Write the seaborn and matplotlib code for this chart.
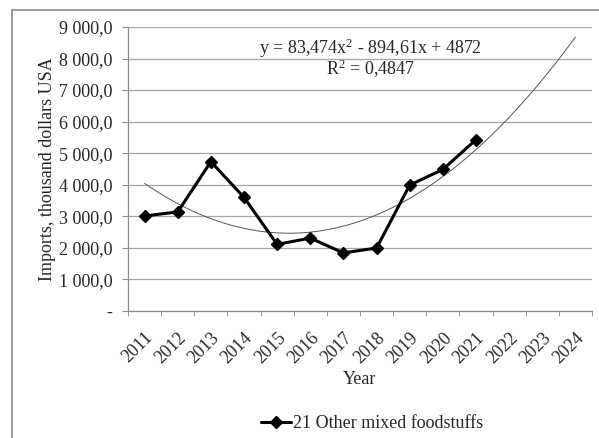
import numpy as np
import pandas as pd
import seaborn as sns
import matplotlib.pyplot as plt
from matplotlib.patches import Rectangle
from matplotlib.ticker import FuncFormatter, MultipleLocator, FixedLocator

# data
years = list(range(2011, 2025))
data_years = list(range(2011, 2022))
imports = [3010, 3140, 4730, 3600, 2110, 2310, 1840, 1995, 3990, 4485, 5430]
series_name = "21 Other mixed foodstuffs"
equation_text = "y = 83,474x$^{2}$ - 894,61x + 4872\nR$^{2}$ = 0,4847"

sns.set_style("white")
plt.rcParams['font.family'] = ['Liberation Serif', 'DejaVu Serif']
plt.rcParams['font.size'] = 13
plt.rcParams['mathtext.fontset'] = 'custom'
plt.rcParams['mathtext.rm'] = 'Liberation Serif'
plt.rcParams['mathtext.default'] = 'regular'

df = pd.DataFrame({'year': data_years, 'imports': imports})

# Excel-style 2nd order polynomial trendline, fitted on the series and drawn up to 2024
idx = np.arange(1, len(data_years) + 1)
coef = np.polyfit(idx, imports, 2)
trend_idx = np.linspace(1, len(years), 200)
trend = pd.DataFrame({'year': trend_idx + years[0] - 1,
                      'value': np.polyval(coef, trend_idx)})

fig = plt.figure(figsize=(5.99, 4.38), dpi=100)
ax = fig.add_axes([0.2137, 0.29, 0.7746, 0.6484])

sns.lineplot(data=trend, x='year', y='value', ax=ax, color='#555555',
             linewidth=0.7, legend=False)
sns.lineplot(data=df, x='year', y='imports', ax=ax, color='black', linewidth=2.2,
             marker='D', markersize=6.5, markeredgecolor='black', markeredgewidth=1,
             label=series_name, legend=False)

# axes
ax.set_xlim(years[0] - 0.5, years[-1] + 0.5)
ax.set_ylim(0, 9000)
ax.yaxis.set_major_locator(MultipleLocator(1000))
ax.yaxis.set_major_formatter(FuncFormatter(
    lambda v, p: '-' if v == 0 else f"{v:,.1f}".replace(',', ' ').replace('.', ',')))
ax.xaxis.set_major_locator(FixedLocator(years))
ax.xaxis.set_major_formatter(FuncFormatter(lambda v, p: str(int(round(v)))))
ax.xaxis.set_minor_locator(FixedLocator([y - 0.5 for y in years] + [years[-1] + 0.5]))

ax.grid(axis='y', color='#a6a6a6', linewidth=0.9)
ax.grid(axis='x', visible=False)
for side in ['top', 'right']:
    ax.spines[side].set_visible(False)
for side in ['left', 'bottom']:
    ax.spines[side].set_color('#8c8c8c')
    ax.spines[side].set_linewidth(0.9)

ax.tick_params(axis='y', which='major', length=4, color='#8c8c8c', pad=7, labelsize=13, left=True)
ax.tick_params(axis='x', which='major', length=0, pad=13, labelsize=13)
ax.tick_params(axis='x', which='minor', length=3.5, color='#8c8c8c', bottom=True)
for lbl in ax.get_xticklabels():
    lbl.set_rotation(45)
    lbl.set_ha('right')
    lbl.set_va('top')
    lbl.set_rotation_mode('anchor')

ax.set_xlabel('Year', fontsize=13)
ax.set_ylabel('Imports, thousand dollars USA', fontsize=13)
ax.xaxis.set_label_coords(0.5, -0.21)
ax.yaxis.set_label_coords(-0.155, 0.5)

ax.text(0.5216, 0.89, equation_text, transform=ax.transAxes, ha='center', va='center',
        multialignment='center', linespacing=0.9, fontsize=13)

handles, labels = ax.get_legend_handles_labels()
fig.legend(handles, labels, loc='center', bbox_to_anchor=(372 / 599, 1 - 424 / 438),
           frameon=False, handlelength=1.7, handletextpad=0.1, fontsize=13)

# chart area border (only top and left edges fall inside the picture)
fig.patches.append(Rectangle((12 / 599, -0.1), 1.2, 1 - 10 / 438 + 0.1,
                             transform=fig.transFigure, fill=False,
                             edgecolor='#8c8c8c', linewidth=1.2))

fig.savefig('out.png', dpi=100)
